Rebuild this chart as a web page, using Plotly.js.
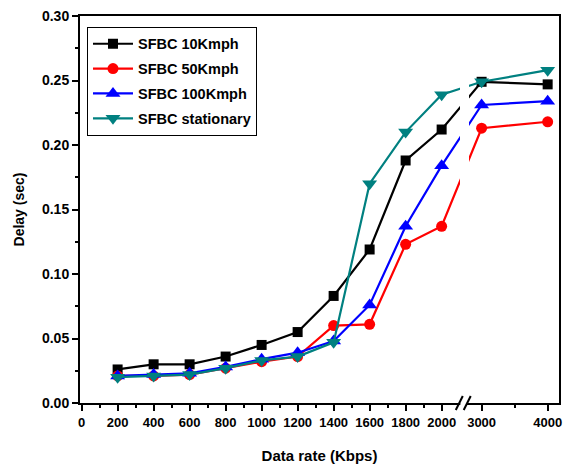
<!DOCTYPE html>
<html>
<head>
<meta charset="utf-8">
<script src="https://cdn.plot.ly/plotly-3.0.1.min.js"></script>
<style>html,body{margin:0;padding:0;background:#fff;}#chart{width:565px;height:464px;}</style>
</head>
<body>
<div id="chart"></div>
<script>
// Data (x in Kbps, delay in sec)
const dataRate = [200, 400, 600, 800, 1000, 1200, 1400, 1600, 1800, 2000, 3000, 4000];
const sfbc10 = [0.026, 0.030, 0.030, 0.036, 0.045, 0.055, 0.083, 0.119, 0.188, 0.212, 0.249, 0.247];
const sfbc50 = [0.021, 0.021, 0.022, 0.027, 0.032, 0.036, 0.060, 0.061, 0.123, 0.137, 0.213, 0.218];
const sfbc100 = [0.021, 0.022, 0.023, 0.028, 0.034, 0.039, 0.048, 0.076, 0.137, 0.184, 0.231, 0.234];
const sfbcStat = [0.020, 0.021, 0.022, 0.027, 0.033, 0.036, 0.047, 0.170, 0.210, 0.239, 0.249, 0.258];
const seriesNames = ['SFBC 10Kmph', 'SFBC 50Kmph', 'SFBC 100Kmph', 'SFBC stationary'];
const xTickValues = [0, 200, 400, 600, 800, 1000, 1200, 1400, 1600, 1800, 2000, 3000, 4000];

// Broken axis scale: linear up to 2000, compressed segment after the break
function brk(v) { return v <= 2000 ? v : 2222 + (v - 3000) * 0.367; }

const X = dataRate.map(brk);
const font = 'Liberation Sans, Arial, sans-serif';

const styles = [
  {color: '#000000', symbol: 'square', size: 10},
  {color: '#ff0000', symbol: 'circle', size: 11},
  {color: '#0000ff', symbol: 'triangle-up', size: 13},
  {color: '#008080', symbol: 'triangle-down', size: 13}
];
const ys = [sfbc10, sfbc50, sfbc100, sfbcStat];
const traces = ys.map((y, i) => ({
  type: 'scatter', mode: 'lines+markers', x: X, y: y, name: seriesNames[i], legendgroup: 'g' + i,
  line: {color: styles[i].color, width: 2.2},
  marker: {color: styles[i].color, symbol: styles[i].symbol, size: styles[i].size, line: {width: 0}}
}));

const minorX = [];
for (let v = 100; v < 2000; v += 200) minorX.push(v);
minorX.push(brk(3500));

const bx1 = 2098, bx2 = 2142;
const layout = {
  width: 565, height: 464,
  margin: {l: 80, r: 6, t: 16, b: 61},
  paper_bgcolor: '#fff', plot_bgcolor: '#fff',
  showlegend: true,
  legend: {x: 0.0146, y: 0.972, xanchor: 'left', yanchor: 'top', bordercolor: '#000', borderwidth: 1,
    bgcolor: '#fff', font: {family: font, size: 14.5, color: '#000', weight: 'bold'}, itemwidth: 40,
    tracegroupgap: 3},
  xaxis: {
    range: [-9, 2652], tickmode: 'array', tickvals: xTickValues.map(brk), ticktext: xTickValues.map(String),
    showgrid: false, zeroline: false, showline: true, linecolor: '#000', linewidth: 2, mirror: true,
    ticks: 'outside', ticklen: 6, tickwidth: 2, tickcolor: '#000',
    tickfont: {family: font, size: 13, color: '#000', weight: 'bold'},
    minor: {tickmode: 'array', tickvals: minorX, ticks: 'outside', ticklen: 3, tickwidth: 2, tickcolor: '#000', showgrid: false},
    title: {text: 'Data rate (Kbps)', font: {family: font, size: 15, color: '#000', weight: 'bold'}, standoff: 22}
  },
  yaxis: {
    range: [0, 0.3], dtick: 0.05, tick0: 0, tickformat: '.2f',
    showgrid: false, zeroline: false, showline: true, linecolor: '#000', linewidth: 2, mirror: true,
    ticks: 'outside', ticklen: 6, tickwidth: 2, tickcolor: '#000',
    tickfont: {family: font, size: 14, color: '#000', weight: 'bold'},
    minor: {dtick: 0.025, ticks: 'outside', ticklen: 3, tickwidth: 2, tickcolor: '#000', showgrid: false},
    title: {text: 'Delay (sec)', font: {family: font, size: 14, color: '#000', weight: 'bold'}, standoff: 14}
  },
  shapes: [
    {type: 'rect', layer: 'above', xref: 'x', yref: 'y', x0: 2102, x1: 2152, y0: 0.01, y1: 0.29,
      fillcolor: '#fff', line: {width: 0}},
    {type: 'rect', layer: 'above', xref: 'x', yref: 'paper', x0: bx1 + 6, x1: bx2 - 6,
      ysizemode: 'pixel', yanchor: 0, y0: -2, y1: 2, fillcolor: '#fff', line: {width: 0}},
    {type: 'line', layer: 'above', xref: 'x', yref: 'paper', xsizemode: 'pixel', xanchor: bx1, x0: -3.5, x1: 3.5,
      ysizemode: 'pixel', yanchor: 0, y0: -7, y1: 7, line: {color: '#000', width: 2}},
    {type: 'line', layer: 'above', xref: 'x', yref: 'paper', xsizemode: 'pixel', xanchor: bx2, x0: -3.5, x1: 3.5,
      ysizemode: 'pixel', yanchor: 0, y0: -7, y1: 7, line: {color: '#000', width: 2}}
  ]
};

Plotly.newPlot('chart', traces, layout, {displayModeBar: false, staticPlot: true});
</script>
</body>
</html>
